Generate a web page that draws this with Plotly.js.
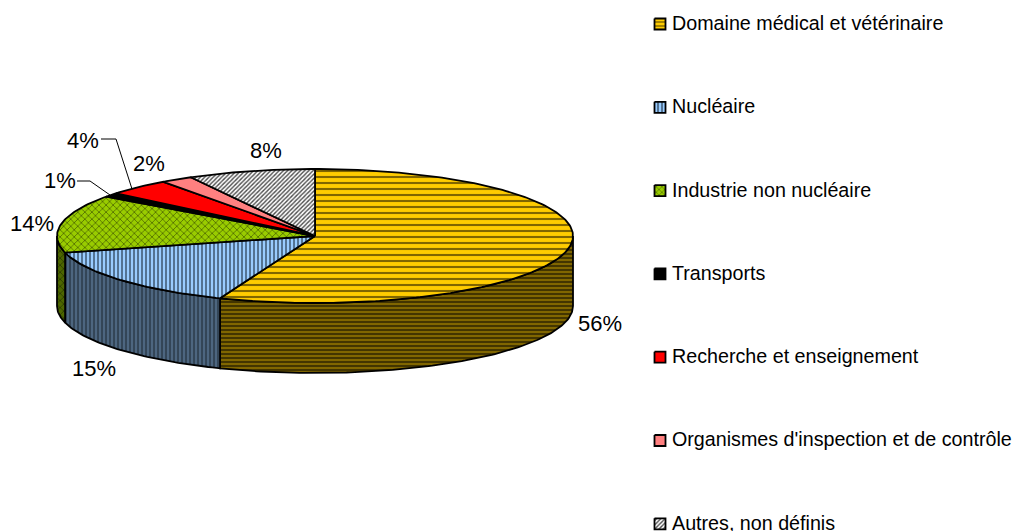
<!DOCTYPE html>
<html><head><meta charset="utf-8">
<script src="https://cdn.plot.ly/plotly-3.0.1.min.js"></script>
<style>html,body{margin:0;padding:0;background:#fff}#c{width:1017px;height:531px}</style>
</head><body><div id="c"></div>
<script>
const categories = ["Domaine médical et vétérinaire","Nucléaire","Industrie non nucléaire","Transports","Recherche et enseignement","Organismes d'inspection et de contrôle","Autres, non définis"];
const values = [56,15,14,1,4,2,8];

// Drawing constants (page pixels)
const C = {x:315,y:236,rx:258,ry:67,depth:70};
const labelPos = [[600,325],[94,370],[32,225],[60,182],[83,142],[149,165],[266,152]];
const leaderLines = [{cat:3,x:[77,90,110],y:[181,181,195]},{cat:4,x:[101,116,132],y:[139,139,189]}];
const legend = {sx:660,tx:672,y0:24,dy:83.3,half:5.5,textShift:1};
const topStyle = [
 {shape:'-',size:6,solidity:0.35,bgcolor:'#FFCC00',fgcolor:'#806600'},
 {shape:'|',size:4,solidity:0.25,bgcolor:'#99CCFF',fgcolor:'#0d1a26'},
 {shape:'x',size:5,solidity:0.2,bgcolor:'#99CC00',fgcolor:'#2a3800'},
 {shape:'',bgcolor:'#000000',fgcolor:'#000000'},
 {shape:'',bgcolor:'#FF0000',fgcolor:'#FF0000'},
 {shape:'',bgcolor:'#FF8080',fgcolor:'#FF8080'},
 {shape:'/',size:3,solidity:0.45,bgcolor:'#FFFFFF',fgcolor:'#4d4d4d'}
];
const sideStyle = [
 {shape:'-',size:4,solidity:0.3,bgcolor:'#806600',fgcolor:'#1a1400'},
 {shape:'|',size:4,solidity:0.2,bgcolor:'#4D6680',fgcolor:'#0d1319'},
 {shape:'x',size:5,solidity:0.2,bgcolor:'#4D6600',fgcolor:'#1a2200'}
];

const pt = (a,dy=0)=>[C.x+C.rx*Math.sin(a), C.y-C.ry*Math.cos(a)+dy];
const arc = (a0,a1,dy=0)=>{const n=Math.max(2,Math.ceil(Math.abs(a1-a0)*60)),o=[];
  for(let i=0;i<=n;i++)o.push(pt(a0+(a1-a0)*i/n,dy));return o;};
const total = values.reduce((s,v)=>s+v,0);
let acc=0;
const wedges = values.map(v=>{const a0=acc/total*2*Math.PI;acc+=v;return [a0,acc/total*2*Math.PI];});

const poly=(pts,pattern,name)=>{
  const t={type:'scatter',mode:'lines',x:pts.map(p=>p[0]),y:pts.map(p=>p[1]),fill:'toself',
    line:{color:'#000',width:1.8},fillcolor:pattern.bgcolor,hoverinfo:'skip',name:name};
  if(pattern.shape) t.fillpattern=pattern;
  return t;
};
const traces=[];
// side walls: only the front half of the cylinder shows (90° to 270°)
wedges.forEach((w,i)=>{
  const a0=Math.max(w[0],Math.PI/2),a1=Math.min(w[1],1.5*Math.PI);
  if(a1<=a0||!sideStyle[i])return;
  const pts=arc(a0,a1,0).concat(arc(a1,a0,C.depth));pts.push(pts[0]);
  traces.push(poly(pts,sideStyle[i],categories[i]+' (côté)'));
});
// top faces
wedges.forEach((w,i)=>{
  const pts=[[C.x,C.y]].concat(arc(w[0],w[1]));pts.push([C.x,C.y]);
  traces.push(poly(pts,topStyle[i],categories[i]));
});
// leader lines
leaderLines.forEach(l=>traces.push({type:'scatter',mode:'lines',x:l.x,y:l.y,line:{color:'#000',width:1},hoverinfo:'skip'}));
// percent labels
traces.push({type:'scatter',mode:'text',x:labelPos.map(p=>p[0]),y:labelPos.map(p=>p[1]),
  text:values.map(v=>v+'%'),textposition:'middle center',cliponaxis:false,
  textfont:{family:'Liberation Sans, Arial, sans-serif',size:22,color:'#000'},hoverinfo:'skip'});
// legend
categories.forEach((c,i)=>{
  const y=legend.y0+i*legend.dy,h=legend.half,x=legend.sx;
  const pts=[[x-h,y-h],[x+h,y-h],[x+h,y+h],[x-h,y+h],[x-h,y-h]];
  const st=Object.assign({},topStyle[i]);
  if(st.shape) st.size=Math.min(st.size,4);
  traces.push(poly(pts,st,c));
});
traces.push({type:'scatter',mode:'text',x:categories.map(()=>legend.tx),y:categories.map((c,i)=>legend.y0+i*legend.dy+legend.textShift),
  text:categories,textposition:'middle right',cliponaxis:false,
  textfont:{family:'Liberation Sans, Arial, sans-serif',size:19.7,color:'#000'},hoverinfo:'skip'});

Plotly.newPlot('c',traces,{
  width:1017,height:531,margin:{l:0,r:0,t:0,b:0},showlegend:false,
  paper_bgcolor:'#fff',plot_bgcolor:'#fff',
  xaxis:{range:[0,1017],visible:false,fixedrange:true},
  yaxis:{range:[531,0],visible:false,fixedrange:true}
},{displayModeBar:false,staticPlot:true});
</script></body></html>
